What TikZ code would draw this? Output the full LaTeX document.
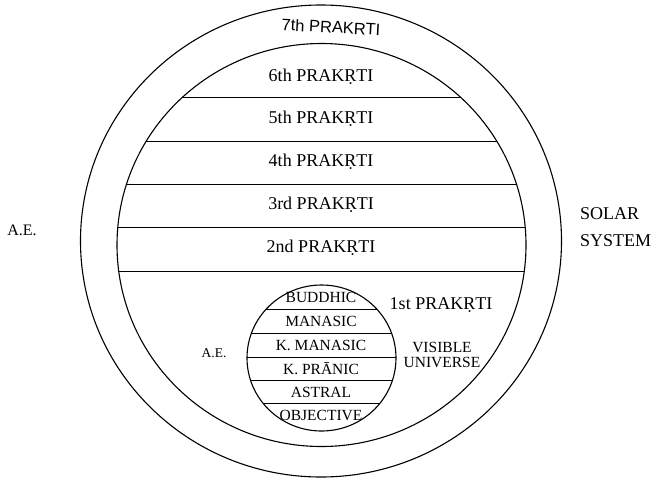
\documentclass[tikz,border=0pt]{standalone}
\usepackage{fontspec}
\setmainfont{Liberation Serif}
\newfontfamily\handsans{Liberation Sans}
\usetikzlibrary{positioning}

\begin{document}
\begin{tikzpicture}[
    x=1pt, y=-1pt,
    % Line styles
    ring/.style={draw, line width=1.1pt},
    band/.style={draw, line width=0.9pt},
    % Text styles
    layer/.style={font=\fontsize{18}{20}\selectfont, inner sep=0pt},
    sublayer/.style={font=\fontsize{15.5}{15}\selectfont, inner sep=0pt, align=center},
    side/.style={font=\fontsize{18}{27}\selectfont, inner sep=0pt, align=left},
]
    \useasboundingbox (0,0) rectangle (658,482);

    % Centres of the three circles
    \coordinate (solar) at (321,241);
    \coordinate (prakrti) at (321.5,245);
    \coordinate (visible) at (321.5,358);

    % Circles
    \draw[ring] (solar) ellipse [x radius=240.5, y radius=236];
    \draw[ring] (prakrti) ellipse [x radius=204.5, y radius=201.5];
    \draw[ring] (visible) ellipse [x radius=74.5, y radius=73];

    % Bands of the prakrtis
    \begin{scope}
        \clip (prakrti) ellipse [x radius=204.5, y radius=201.5];
        \foreach \y in {97,141,184,227,271}
            \draw[band] (100,\y) -- (545,\y);
    \end{scope}
    \begin{scope}
        \clip (visible) ellipse [x radius=74.5, y radius=73];
        \foreach \y in {309,333,357,380,403}
            \draw[band] (240,\y) -- (400,\y);
    \end{scope}

    % Labels of the prakrtis
    \node[font=\handsans\fontsize{16.5}{18}\selectfont, rotate=-3, inner sep=0pt] (p7) at (331,27) {7th PRAKRTI};
    \node[layer] (p6) at (321,77) {6th PRAKṚTI};
    \node[layer] (p5) at (321,119) {5th PRAKṚTI};
    \node[layer] (p4) at (321,162) {4th PRAKṚTI};
    \node[layer] (p3) at (321,205) {3rd PRAKṚTI};
    \node[layer] (p2) at (321,248) {2nd PRAKṚTI};
    \node[layer] (p1) at (441,305) {1st PRAKṚTI};

    % Labels of the visible universe
    \node[sublayer] (buddhic) at (321,297) {BUDDHIC};
    \node[sublayer] (manasic) at (321,321) {MANASIC};
    \node[sublayer] (kmanasic) at (321,345) {K. MANASIC};
    \node[sublayer] (kpranic) at (321,369) {K. PRĀNIC};
    \node[sublayer] (astral) at (321,392) {ASTRAL};
    \node[sublayer] (objective) at (321,415) {OBJECTIVE};
    \node[sublayer] (universe) at (442,355) {VISIBLE\\UNIVERSE};

    % Side labels
    \node[font=\fontsize{13.5}{15}\selectfont, inner sep=0pt] (aeinner) at (214,353) {A.E.};
    \node[font=\fontsize{16}{18}\selectfont, inner sep=0pt] (aeouter) at (22,230) {A.E.};
    \node[side, anchor=west] (system) at (580,227) {SOLAR\\SYSTEM};
\end{tikzpicture}
\end{document}
